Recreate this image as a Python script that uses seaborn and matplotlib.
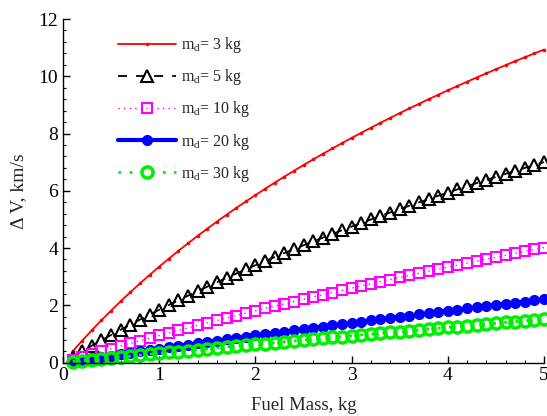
import matplotlib
matplotlib.use("Agg")
import matplotlib.pyplot as plt
from matplotlib.ticker import MultipleLocator
import numpy as np
import pandas as pd
import seaborn as sns

# ---- data ----
fuel_mass = [round(0.1 * k, 1) for k in range(1, 51)]

dv_md3 = [0.390, 0.766, 1.128, 1.477, 1.814, 2.140, 2.456, 2.762, 3.059, 3.348,
          3.628, 3.901, 4.166, 4.425, 4.677, 4.922, 5.162, 5.396, 5.625, 5.848,
          6.067, 6.281, 6.491, 6.696, 6.897, 7.094, 7.287, 7.477, 7.663, 7.845,
          8.024, 8.201, 8.374, 8.544, 8.711, 8.875, 9.037, 9.196, 9.353, 9.507,
          9.659, 9.809, 9.956, 10.102, 10.245, 10.386, 10.525, 10.662, 10.798, 10.931]

dv_md5 = [0.200, 0.396, 0.589, 0.777, 0.963, 1.145, 1.323, 1.499, 1.672, 1.841,
          2.008, 2.173, 2.334, 2.493, 2.650, 2.804, 2.956, 3.106, 3.253, 3.398,
          3.542, 3.683, 3.822, 3.960, 4.095, 4.229, 4.361, 4.491, 4.620, 4.747,
          4.873, 4.996, 5.119, 5.240, 5.359, 5.477, 5.594, 5.710, 5.824, 5.937,
          6.048, 6.159, 6.268, 6.376, 6.483, 6.589, 6.693, 6.797, 6.899, 7.001]

dv_md10 = [0.099, 0.196, 0.293, 0.388, 0.483, 0.577, 0.670, 0.762, 0.853, 0.944,
           1.033, 1.122, 1.210, 1.297, 1.384, 1.469, 1.554, 1.639, 1.722, 1.805,
           1.887, 1.969, 2.049, 2.130, 2.209, 2.288, 2.366, 2.444, 2.521, 2.597,
           2.673, 2.749, 2.823, 2.897, 2.971, 3.044, 3.117, 3.189, 3.260, 3.331,
           3.402, 3.472, 3.541, 3.610, 3.678, 3.747, 3.814, 3.881, 3.948, 4.014]

dv_md20 = [0.049, 0.099, 0.147, 0.196, 0.244, 0.293, 0.341, 0.388, 0.436, 0.483,
           0.530, 0.577, 0.623, 0.670, 0.716, 0.762, 0.808, 0.853, 0.898, 0.944,
           0.988, 1.033, 1.078, 1.122, 1.166, 1.210, 1.254, 1.297, 1.341, 1.384,
           1.427, 1.469, 1.512, 1.554, 1.597, 1.639, 1.680, 1.722, 1.764, 1.805,
           1.846, 1.887, 1.928, 1.969, 2.009, 2.049, 2.090, 2.130, 2.169, 2.209]

dv_md30 = [0.033, 0.065, 0.098, 0.130, 0.162, 0.194, 0.226, 0.258, 0.290, 0.321,
           0.353, 0.384, 0.416, 0.447, 0.478, 0.509, 0.540, 0.571, 0.602, 0.632,
           0.663, 0.694, 0.724, 0.754, 0.784, 0.815, 0.845, 0.874, 0.904, 0.934,
           0.964, 0.993, 1.023, 1.052, 1.081, 1.111, 1.140, 1.169, 1.198, 1.227,
           1.255, 1.284, 1.313, 1.341, 1.370, 1.398, 1.426, 1.455, 1.483, 1.511]

labels = [r"m$_\mathrm{d}$= 3 kg", r"m$_\mathrm{d}$= 5 kg", r"m$_\mathrm{d}$= 10 kg",
          r"m$_\mathrm{d}$= 20 kg", r"m$_\mathrm{d}$= 30 kg"]

# ---- styling ----
sns.set_style("ticks")
plt.rcParams["font.family"] = ["Liberation Serif", "DejaVu Serif"]
plt.rcParams["mathtext.fontset"] = "custom"
plt.rcParams["mathtext.rm"] = "Liberation Serif"
plt.rcParams["mathtext.it"] = "Liberation Serif:italic"

fig = plt.figure(figsize=(5.47, 4.16), dpi=100)
ax = fig.add_axes([0.1152, 0.1286, 0.8793, 0.8257])

styles = [
    dict(color="#ff0000", linestyle="-", linewidth=1.3, marker="o", markersize=2.6,
         markerfacecolor="#ff0000", markeredgewidth=0),
    dict(color="black", linestyle=(0, (5, 5)), linewidth=1.3, marker="^", markersize=9,
         markerfacecolor="none", markeredgecolor="black", markeredgewidth=1.5),
    dict(color="#ff00ff", linestyle=(0, (1, 3)), linewidth=1.0, marker="s", markersize=6.5,
         markerfacecolor="none", markeredgecolor="#ff00ff", markeredgewidth=1.5),
    dict(color="#0000ff", linestyle="-", linewidth=3.0, marker="o", markersize=7,
         markerfacecolor="#0000ff", markeredgecolor="#0000ff", markeredgewidth=1),
    dict(color="#00ee00", linestyle=(0, (1, 3)), linewidth=2.0, marker="o", markersize=8,
         markerfacecolor="none", markeredgecolor="#00ee00", markeredgewidth=2.5),
]

series = [dv_md3, dv_md5, dv_md10, dv_md20, dv_md30]
for vals, lab, st in zip(series, labels, styles):
    df = pd.DataFrame({"Fuel Mass": fuel_mass, "dV": vals})
    sns.lineplot(data=df, x="Fuel Mass", y="dV", ax=ax, label=lab,
                 clip_on=False, **st)

ax.set_xlim(0, 5)
ax.set_ylim(0, 12)
ax.xaxis.set_major_locator(MultipleLocator(1))
ax.xaxis.set_minor_locator(MultipleLocator(0.2))
ax.yaxis.set_major_locator(MultipleLocator(2))
ax.yaxis.set_minor_locator(MultipleLocator(0.4))
ax.tick_params(which="both", direction="in", labelsize=14, colors="black")
ax.tick_params(which="major", length=5, width=1)
ax.tick_params(which="minor", length=2.5, width=0.8)
ax.spines["top"].set_visible(False)
ax.spines["right"].set_visible(False)
for s in ("left", "bottom"):
    ax.spines[s].set_linewidth(1.0)
    ax.spines[s].set_color("black")

ax.set_xlabel("Fuel Mass, kg", fontsize=13.5, labelpad=9)
ax.set_ylabel("\u0394 V, km/s", fontsize=14, labelpad=8)

leg = ax.legend(loc="upper left", bbox_to_anchor=(0.085, 0.995), frameon=False,
                fontsize=11.5, handlelength=3.6, numpoints=1, labelspacing=0.76,
                handletextpad=0.3)

fig.savefig("out.png", dpi=100)
